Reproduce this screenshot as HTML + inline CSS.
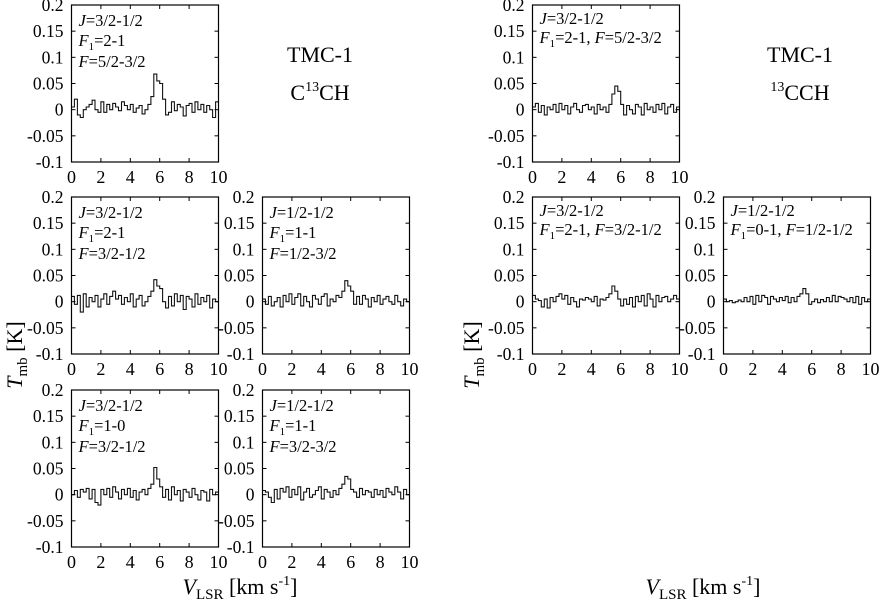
<!DOCTYPE html>
<html><head><meta charset="utf-8"><style>
body{margin:0;background:#fff}
svg{display:block;font-family:"Liberation Serif",serif}
</style></head><body>
<svg id="c" width="880" height="610"></svg>
<script>
const xTicks=[0,2,4,6,8,10];
const yTicks=[-0.1,-0.05,0,0.05,0.1,0.15,0.2];
const yTickLabels=["-0.1","-0.05","0","0.05","0.1","0.15","0.2"];
const channelStart=0, channelStep=0.2;
const specA=[0.005,0.02,-0.01,-0.015,0.0,0.005,0.01,0.018,0.0,-0.005,0.015,-0.005,0.01,0.0,0.012,0.005,-0.002,0.015,0.008,0.0,0.01,-0.005,0.003,0.008,-0.008,0.0,0.01,0.025,0.068,0.055,0.05,0.02,-0.01,-0.005,0.015,-0.002,0.01,0.005,-0.012,0.008,0.012,-0.005,0.015,0.0,0.01,-0.005,0.008,0.0,-0.015,0.015];
const specB=[0.01,-0.005,0.012,-0.02,0.015,-0.01,0.008,0.0,0.012,-0.01,0.005,0.015,-0.005,0.01,0.02,0.005,0.012,-0.005,0.008,0.0,0.015,-0.01,0.005,0.012,-0.008,0.0,0.01,0.02,0.042,0.03,0.025,0.0,-0.012,0.01,-0.008,0.015,0.0,0.012,-0.015,0.01,0.005,-0.01,0.015,-0.005,0.008,0.0,0.012,-0.012,0.005,0.0];
const specC=[0.005,-0.005,0.01,-0.008,0.0,0.008,-0.01,0.012,0.0,0.015,-0.005,0.008,0.015,-0.008,0.01,0.0,-0.01,0.012,0.005,-0.005,0.01,0.015,-0.008,0.005,0.0,0.012,0.008,0.02,0.04,0.03,0.02,-0.005,0.01,-0.005,0.012,0.005,-0.01,0.008,0.0,0.012,-0.005,0.005,0.01,0.0,-0.005,0.012,0.0,-0.008,0.005,0.0];
const specD=[0.0,0.008,-0.005,0.01,0.005,0.012,-0.008,0.01,-0.015,-0.02,0.01,0.0,0.012,-0.005,0.015,0.005,-0.008,0.01,0.0,0.012,-0.005,0.008,-0.01,0.005,0.01,0.0,0.012,0.02,0.052,0.03,0.015,-0.005,0.01,-0.01,0.015,0.0,0.008,-0.012,0.01,0.005,-0.005,0.012,0.0,-0.01,0.008,0.005,-0.012,0.01,0.0,0.005];
const specE=[0.008,0.005,-0.005,-0.015,0.01,-0.008,0.012,0.005,0.015,-0.005,0.01,0.0,0.015,-0.01,0.005,0.012,-0.005,0.0,0.008,0.015,-0.008,0.01,0.005,-0.005,0.008,0.0,0.012,0.02,0.035,0.03,0.01,0.005,-0.005,0.012,0.0,0.008,0.005,-0.005,0.01,0.0,0.008,-0.005,0.012,0.005,0.0,0.015,0.005,-0.008,0.01,0.0];
const specF=[0.005,0.012,-0.005,0.008,-0.01,0.005,0.0,0.01,-0.005,0.012,0.0,0.008,-0.008,0.005,0.012,0.0,-0.005,0.008,0.01,0.0,0.005,-0.008,0.01,0.0,0.005,-0.005,0.01,0.03,0.045,0.035,0.01,-0.01,0.008,0.0,-0.008,0.01,0.005,-0.01,0.012,0.0,0.005,-0.005,0.01,0.0,0.012,-0.008,0.005,0.01,-0.005,0.005];
const specG=[0.012,0.005,0.002,-0.01,0.005,-0.012,0.008,0.0,0.01,0.015,0.005,0.012,-0.005,0.008,0.0,-0.01,0.005,0.003,0.008,0.005,0.0,0.01,-0.008,0.005,0.003,0.008,0.015,0.03,0.02,0.005,-0.008,0.005,-0.005,0.008,-0.01,0.01,0.0,0.012,-0.008,0.015,0.005,-0.01,0.012,0.0,0.008,0.01,0.0,0.005,0.012,0.005];
const specH=[0.005,0.0,0.002,-0.002,0.0,0.003,0.0,0.008,0.0,0.01,-0.005,0.012,0.0,0.012,0.008,-0.005,0.01,0.005,0.0,0.008,0.002,0.01,-0.002,0.008,0.0,0.01,0.015,0.025,0.015,-0.005,0.0,0.005,-0.002,0.004,0.0,0.008,0.0,0.012,0.0,0.01,0.008,0.005,0.0,0.008,-0.002,0.01,-0.005,0.008,0.0,0.005];

const NS="http://www.w3.org/2000/svg";
const svg=document.getElementById('c');
function mk(tag,attrs,parent){const e=document.createElementNS(NS,tag);for(const k in attrs)e.setAttribute(k,attrs[k]);(parent||svg).appendChild(e);return e;}
function txt(x,y,html,size,anchor,parent){const t=mk('text',{x:x,y:y,'font-size':size,'text-anchor':anchor||'start',fill:'#000'},parent);t.innerHTML=html;return t;}

const W=147,H=157;
const S='<tspan font-size="11" dy="4">1</tspan><tspan dy="-4">';
const panels=[
 {x:71.5,y:5,d:specA,name:'panel-c13ch-f52-32',lines:['<tspan font-style="italic">J</tspan>=3/2-1/2','<tspan font-style="italic">F</tspan>'+S+'=2-1</tspan>','<tspan font-style="italic">F</tspan>=5/2-3/2'],ly:[21,41,62]},
 {x:71.5,y:197,d:specB,name:'panel-c13ch-f32-12',lines:['<tspan font-style="italic">J</tspan>=3/2-1/2','<tspan font-style="italic">F</tspan>'+S+'=2-1</tspan>','<tspan font-style="italic">F</tspan>=3/2-1/2'],ly:[21,41,62]},
 {x:262.5,y:197,d:specC,name:'panel-c13ch-f12-32',lines:['<tspan font-style="italic">J</tspan>=1/2-1/2','<tspan font-style="italic">F</tspan>'+S+'=1-1</tspan>','<tspan font-style="italic">F</tspan>=1/2-3/2'],ly:[21,41,62]},
 {x:71.5,y:390,d:specD,name:'panel-c13ch-f1-10',lines:['<tspan font-style="italic">J</tspan>=3/2-1/2','<tspan font-style="italic">F</tspan>'+S+'=1-0</tspan>','<tspan font-style="italic">F</tspan>=3/2-1/2'],ly:[21,41,62]},
 {x:262.5,y:390,d:specE,name:'panel-c13ch-f32-32',lines:['<tspan font-style="italic">J</tspan>=1/2-1/2','<tspan font-style="italic">F</tspan>'+S+'=1-1</tspan>','<tspan font-style="italic">F</tspan>=3/2-3/2'],ly:[21,41,62]},
 {x:532.5,y:5,d:specF,name:'panel-13cch-f52-32',lines:['<tspan font-style="italic">J</tspan>=3/2-1/2','<tspan font-style="italic">F</tspan>'+S+'=2-1, </tspan><tspan font-style="italic">F</tspan>=5/2-3/2'],ly:[19,38]},
 {x:532.5,y:197,d:specG,name:'panel-13cch-f32-12',lines:['<tspan font-style="italic">J</tspan>=3/2-1/2','<tspan font-style="italic">F</tspan>'+S+'=2-1, </tspan><tspan font-style="italic">F</tspan>=3/2-1/2'],ly:[19,38]},
 {x:723.5,y:197,d:specH,name:'panel-13cch-f12-12',lines:['<tspan font-style="italic">J</tspan>=1/2-1/2','<tspan font-style="italic">F</tspan>'+S+'=0-1, </tspan><tspan font-style="italic">F</tspan>=1/2-1/2'],ly:[19,38]}
];

panels.forEach(p=>{
  const g=mk('g',{});
  
  
  const sx=v=>p.x+(v-0)/10*W;
  const sy=v=>p.y+H-(v+0.1)/0.3*H;
  let d='';
  p.d.forEach((v,i)=>{const x0=sx(channelStart+i*channelStep),x1=sx(channelStart+(i+1)*channelStep);const y=sy(v);d+=(i===0?'M':'L')+x0.toFixed(1)+','+y.toFixed(1)+'L'+x1.toFixed(1)+','+y.toFixed(1);});
  const path=mk('path',{d:d,fill:'none',stroke:'#111','stroke-width':1.1},g);
  
  
  xTicks.forEach(t=>{const x=sx(t);mk('line',{x1:x,x2:x,y1:p.y+H,y2:p.y+H-4,stroke:'#000'},g);mk('line',{x1:x,x2:x,y1:p.y,y2:p.y+4,stroke:'#000'},g);
    const l=txt(x,p.y+H+21,String(t),18,'middle',g);});
  yTicks.forEach((t,i)=>{const y=sy(t);mk('line',{x1:p.x,x2:p.x+4,y1:y,y2:y,stroke:'#000'},g);mk('line',{x1:p.x+W,x2:p.x+W-4,y1:y,y2:y,stroke:'#000'},g);
    const l=txt(p.x-8,y+6,yTickLabels[i],17.5,'end',g);});
  const fr=mk('rect',{x:p.x,y:p.y,width:W,height:H,fill:'none',stroke:'#000','stroke-width':1.2},g);
  
  
  p.lines.forEach((ln,i)=>{const t=txt(p.x+7,p.y+p.ly[i],ln,16.5,'start',g);});
});
</script>
<svg style="position:absolute;left:0;top:0" width="880" height="610" font-family="Liberation Serif, serif">
<text x="320" y="62" font-size="22" text-anchor="middle">TMC-1</text>
<text x="320" y="100" font-size="22" text-anchor="middle">C<tspan font-size="14" dy="-9">13</tspan><tspan dy="9">CH</tspan></text>
<text x="800" y="62" font-size="22" text-anchor="middle">TMC-1</text>
<text x="800" y="100" font-size="22" text-anchor="middle"><tspan font-size="14" dy="-9">13</tspan><tspan dy="9">CCH</tspan></text>
<text transform="translate(22,355) rotate(-90)" font-size="22" text-anchor="middle"><tspan font-style="italic">T</tspan><tspan font-size="15" dy="5">mb</tspan><tspan dy="-5"> [K]</tspan></text>
<text transform="translate(479,355) rotate(-90)" font-size="22" text-anchor="middle"><tspan font-style="italic">T</tspan><tspan font-size="15" dy="5">mb</tspan><tspan dy="-5"> [K]</tspan></text>
<text x="240" y="594" font-size="22" text-anchor="middle"><tspan font-style="italic">V</tspan><tspan font-size="15" dy="5">LSR</tspan><tspan dy="-5"> [km s</tspan><tspan font-size="14" dy="-9">-1</tspan><tspan dy="9">]</tspan></text>
<text x="703" y="594" font-size="22" text-anchor="middle"><tspan font-style="italic">V</tspan><tspan font-size="15" dy="5">LSR</tspan><tspan dy="-5"> [km s</tspan><tspan font-size="14" dy="-9">-1</tspan><tspan dy="9">]</tspan></text>
</svg>
</body></html>
